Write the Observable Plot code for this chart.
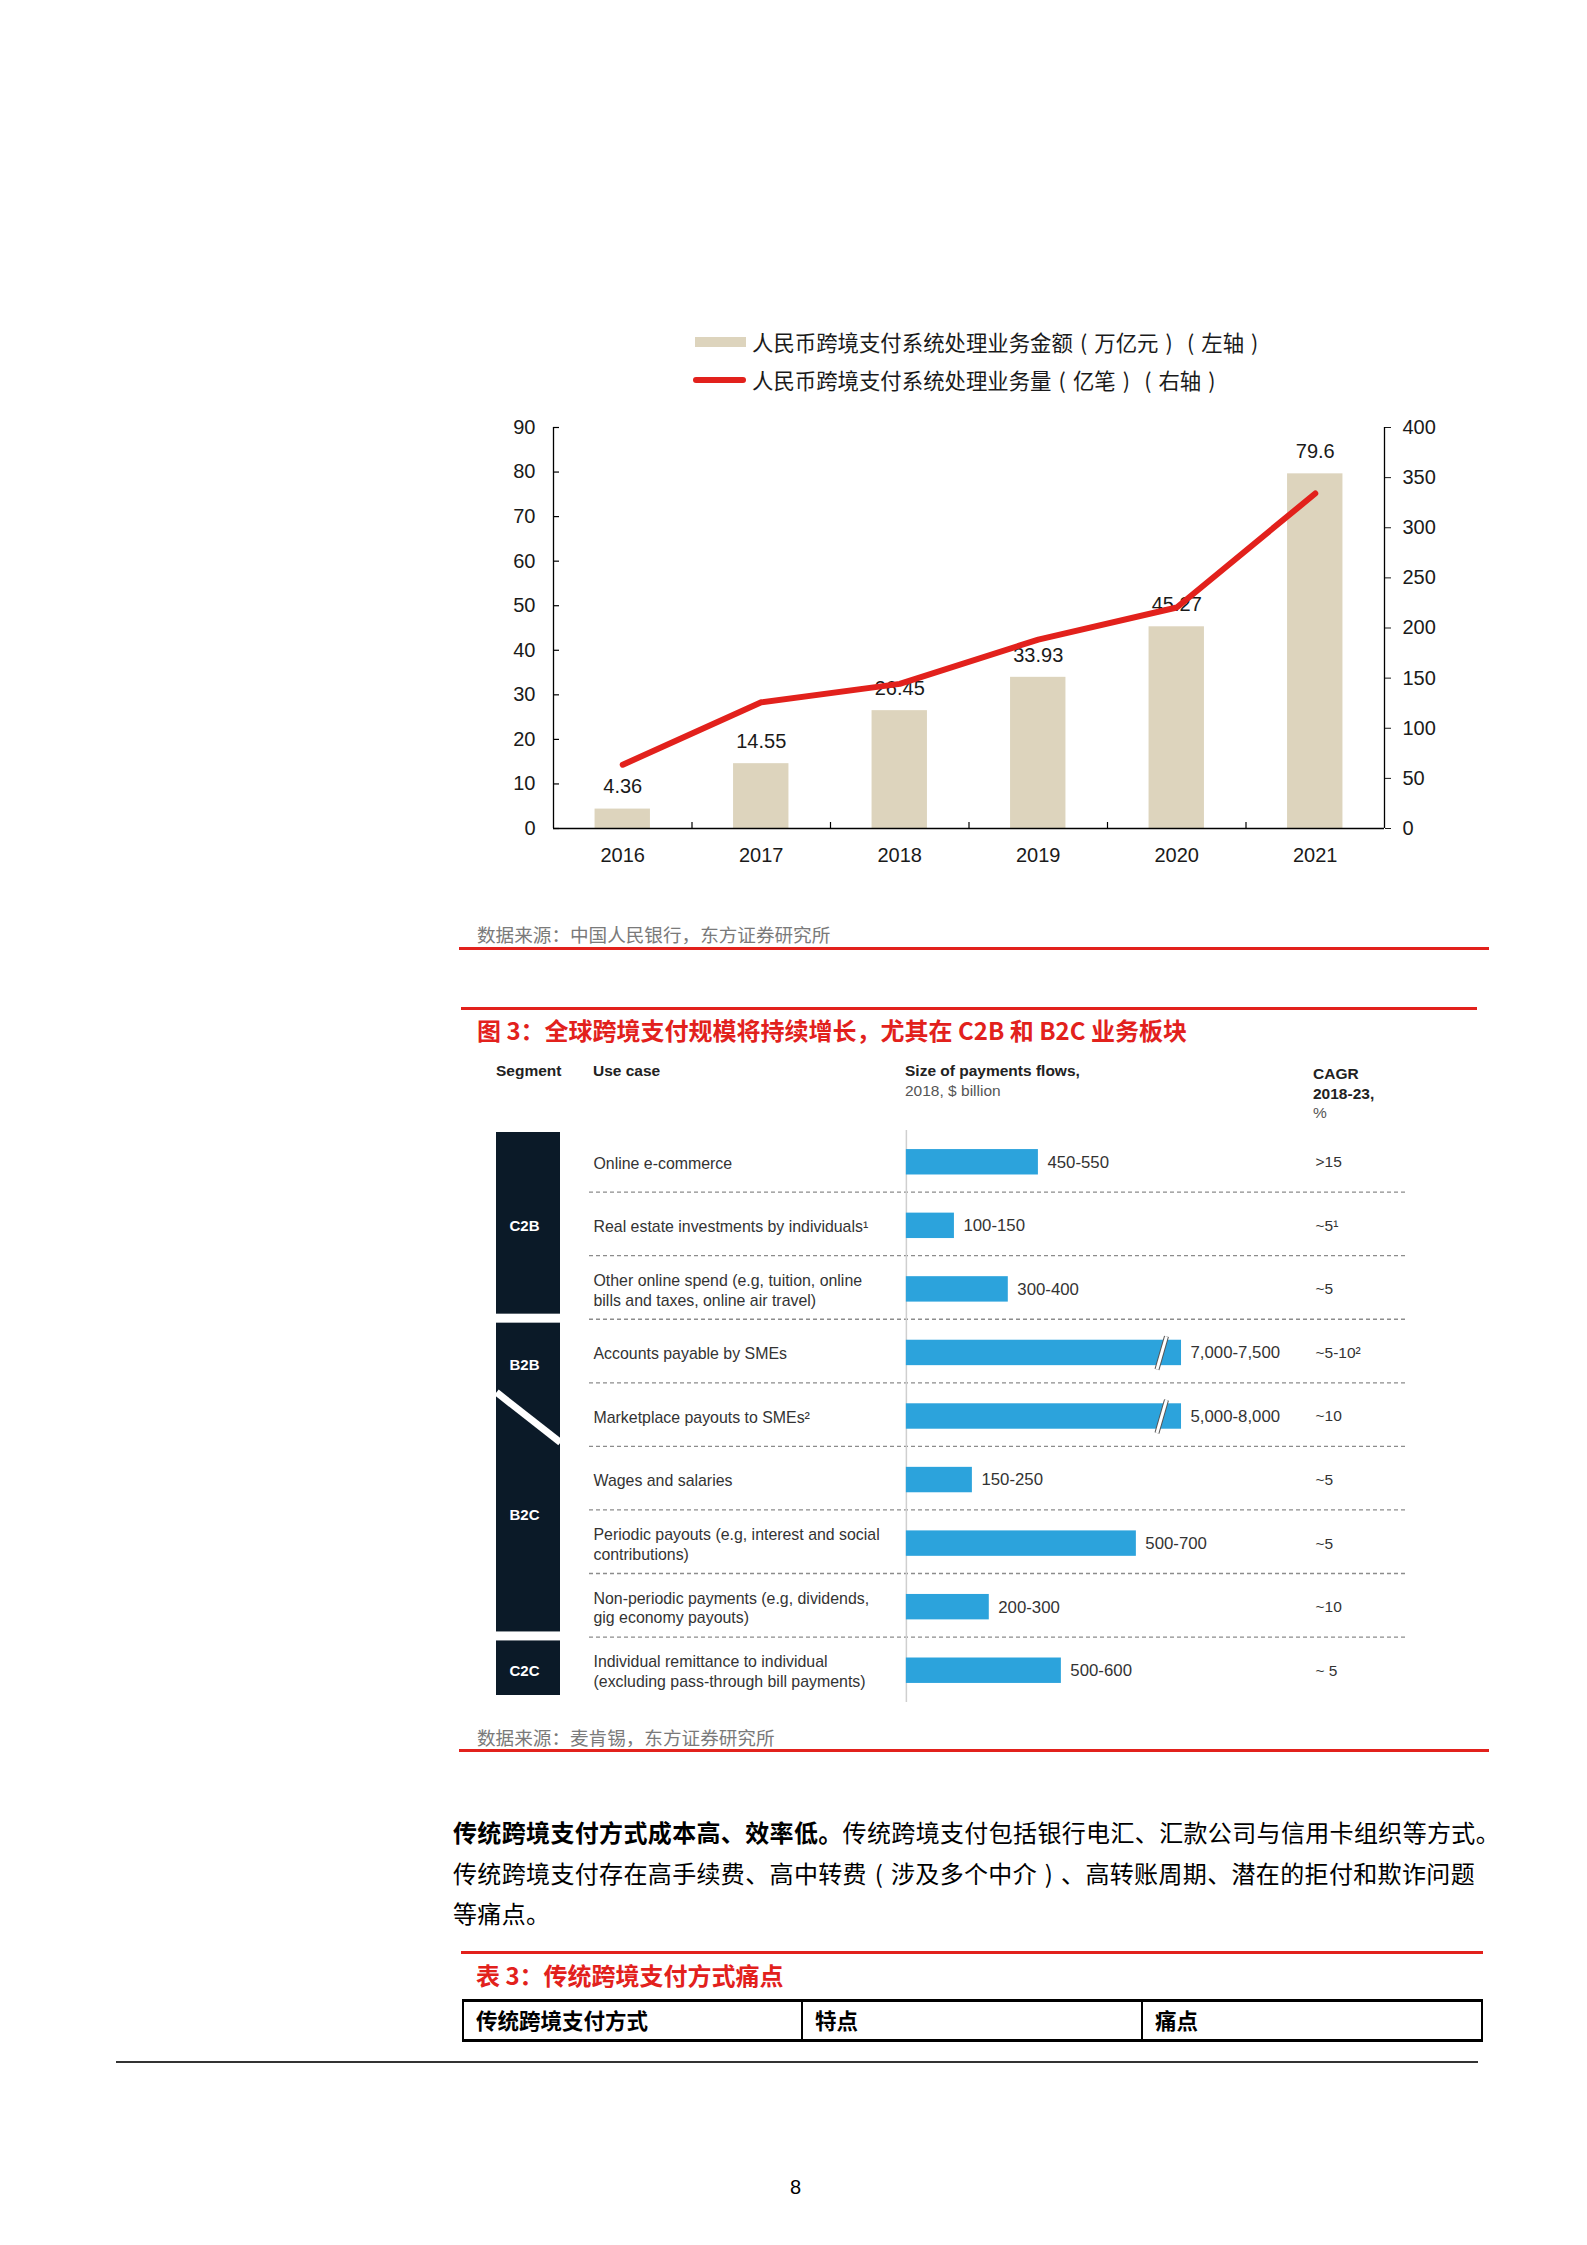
<!DOCTYPE html>
<html>
<head>
<meta charset="utf-8">
<script src="https://cdn.jsdelivr.net/npm/d3@7"></script>
<script src="https://cdn.jsdelivr.net/npm/@observablehq/plot@0.6"></script>
<style>
  html, body { margin: 0; padding: 0; background: #fff; }
  #page { position: relative; width: 1587px; height: 2245px; background: #fff; overflow: hidden; }
  .abs { position: absolute; white-space: pre; }
  .t { transform: translateY(-50%); line-height: 1.2; }
  .cjk { font-family: "Noto Sans CJK SC", "Noto Sans", sans-serif; }
  .lat { font-family: "Liberation Sans", Arial, "Noto Sans", sans-serif; }
  .pr { display: inline-block; width: 1em; text-align: center; }
</style>
</head>
<body>
<div id="page"></div>
<script>
// ---------------- Chart 1 data ----------------
const years = [2016, 2017, 2018, 2019, 2020, 2021];
const cipsAmount = [4.36, 14.55, 26.45, 33.93, 45.27, 79.6];        // 万亿元, left axis
const cipsVolume = [63.61, 125.9, 144.24, 188.43, 220.49, 334.16];  // 右轴
const leftTicks = [0, 10, 20, 30, 40, 50, 60, 70, 80, 90];
const rightTicks = [0, 50, 100, 150, 200, 250, 300, 350, 400];
const legendAmount = "人民币跨境支付系统处理业务金额（万亿元）（左轴）";
const legendVolume = "人民币跨境支付系统处理业务量（亿笔）（右轴）";

// ---------------- Chart 2 data ----------------
const useCases = [
  "Online e-commerce",
  "Real estate investments by individuals¹",
  "Other online spend (e.g, tuition, online\nbills and taxes, online air travel)",
  "Accounts payable by SMEs",
  "Marketplace payouts to SMEs²",
  "Wages and salaries",
  "Periodic payouts (e.g, interest and social\ncontributions)",
  "Non-periodic payments (e.g, dividends,\ngig economy payouts)",
  "Individual remittance to individual\n(excluding pass-through bill payments)"
];
const sizeLabels = ["450-550", "100-150", "300-400", "7,000-7,500", "5,000-8,000", "150-250", "500-700", "200-300", "500-600"];
// drawn bar length as shown in the picture (broken bars are truncated)
const drawnSize = [500, 182, 386, 1042, 1042, 250, 871, 314, 587];
const brokenBar = [false, false, false, true, true, false, false, false, false];
const cagr = [">15", "~5¹", "~5", "~5-10²", "~10", "~5", "~5", "~10", "~ 5"];
const segmentBlocks = [
  {name: "C2B", first: 0, last: 2},
  {name: "B2B/B2C", first: 3, last: 7},
  {name: "C2C", first: 8, last: 8}
];
const segmentLabels = [
  {label: "C2B", at: 1.0},
  {label: "B2B", at: 3.2},
  {label: "B2C", at: 5.55},
  {label: "C2C", at: 8.0}
];
const segmentSplit = [{from: 3.62, to: 4.41}];

// ---------------- helpers ----------------
const page = document.getElementById("page");
function esc(s) { return s.replace(/&/g, "&amp;").replace(/</g, "&lt;").replace(/>/g, "&gt;"); }
function parenHTML(s) {
  return esc(s).replace(/（/g, '<span class="pr">(</span>').replace(/）/g, '<span class="pr">)</span>');
}
function txt(s, x, cy, css, cls, html) {
  const d = document.createElement("div");
  d.className = "abs t " + (cls || "cjk");
  if (html) d.innerHTML = html; else d.textContent = s;
  d.style.left = x + "px";
  d.style.top = cy + "px";
  Object.assign(d.style, css || {});
  page.appendChild(d);
  return d;
}
function box(x, y, w, h, css) {
  const d = document.createElement("div");
  d.className = "abs";
  Object.assign(d.style, {left: x + "px", top: y + "px", width: w + "px", height: h + "px"}, css || {});
  page.appendChild(d);
  return d;
}
function place(node, x, y) {
  node.style.position = "absolute";
  node.style.left = x + "px";
  node.style.top = y + "px";
  page.appendChild(node);
}

const RED = "#e2211c";
const BEIGE = "#ddd4bd";
const latFont = "Liberation Sans, Arial, sans-serif";

// ---------------- Chart 1 ----------------
box(695, 337, 51, 10, {background: BEIGE});
txt(null, 752, 341.5, {fontSize: "21.4px", color: "#1a1a1a"}, "cjk", parenHTML(legendAmount));
box(693, 377, 53, 6, {background: RED, borderRadius: "3px"});
txt(null, 752, 380, {fontSize: "21.4px", color: "#1a1a1a"}, "cjk", parenHTML(legendVolume));

const rows1 = years.map((y, i) => ({year: y, amount: cipsAmount[i], volume: cipsVolume[i]}));
const W1 = 980, H1 = 480, ML1 = 93, MR1 = 56, MT1 = 27, MB1 = 52;
const frameW1 = W1 - ML1 - MR1, frameH1 = H1 - MT1 - MB1;
const xDom1 = [years[0] - 0.5, years[years.length - 1] + 0.5];
const style1 = {fontFamily: latFont, fontSize: "20px", color: "#1a1a1a", background: "transparent", overflow: "visible"};

const chartBars = Plot.plot({
  width: W1, height: H1, marginLeft: ML1, marginRight: MR1, marginTop: MT1, marginBottom: MB1,
  style: style1,
  x: {domain: xDom1, ticks: years, tickFormat: d => String(d), tickSize: 0, tickPadding: 19, label: null},
  y: {domain: [0, 90], ticks: leftTicks, tickSize: 0, tickPadding: 18, label: null},
  marks: [
    Plot.rect(rows1, {x1: d => d.year - 0.2, x2: d => d.year + 0.2, y1: 0, y2: "amount", fill: BEIGE}),
    Plot.text(rows1, {x: "year", y: "amount", text: d => String(d.amount), dy: -22, fontSize: 20, fill: "#1a1a1a"}),
    Plot.ruleY([0], {stroke: "#000", strokeWidth: 1.6}),
    Plot.ruleX([xDom1[0]], {stroke: "#000", strokeWidth: 1.3}),
    Plot.tickY(leftTicks, {y: d => d, insetRight: frameW1 - 6, stroke: "#000", strokeWidth: 1.2}),
    Plot.tickX(years.slice(0, -1), {x: d => d + 0.5, insetTop: frameH1 - 6, stroke: "#000", strokeWidth: 1.2})
  ]
});
place(chartBars, 460, 400);

const chartLine = Plot.plot({
  width: W1, height: H1, marginLeft: ML1, marginRight: MR1, marginTop: MT1, marginBottom: MB1,
  style: style1,
  x: {domain: xDom1, axis: null},
  y: {domain: [0, 400], ticks: rightTicks, axis: "right", tickSize: 6, tickPadding: 12, label: null},
  marks: [
    Plot.ruleX([xDom1[1]], {stroke: "#000", strokeWidth: 1.3}),
    Plot.line(rows1, {x: "year", y: "volume", stroke: RED, strokeWidth: 6, strokeLinecap: "round", strokeLinejoin: "round"})
  ]
});
place(chartLine, 460, 400);

txt("数据来源：中国人民银行，东方证券研究所", 477, 934, {fontSize: "18.6px", color: "#7a7a7a"});
box(459, 947, 1030, 2.5, {background: RED});

// ---------------- Chart 2 ----------------
box(461, 1007, 1016, 2.5, {background: RED});
txt("图 3：全球跨境支付规模将持续增长，尤其在 C2B 和 B2C 业务板块", 477, 1030, {fontSize: "24px", fontWeight: "bold", color: RED});

const hdr = {fontSize: "15.5px", fontWeight: "bold", color: "#222"};
const hdr2 = {fontSize: "15.5px", color: "#555"};
txt("Segment", 496, 1071, hdr, "lat");
txt("Use case", 593, 1071, hdr, "lat");
txt("Size of payments flows,", 905, 1071, hdr, "lat");
txt("2018, $ billion", 905, 1091, hdr2, "lat");
txt("CAGR", 1313, 1074, hdr, "lat");
txt("2018-23,", 1313, 1094, hdr, "lat");
txt("%", 1313, 1113, hdr2, "lat");

const rows2 = useCases.map((u, i) => ({i, useCase: u, label: sizeLabels[i], drawn: drawnSize[i], broken: brokenBar[i], cagr: cagr[i]}));
const W2 = 940, H2 = 586, ML2 = 109, MR2 = 14, MT2 = 10, MB2 = 4;
const yDom2 = [-0.5, useCases.length - 0.5];
const style2 = {fontFamily: latFont, fontSize: "16px", color: "#333", background: "transparent", overflow: "visible"};
const BLUE = "#2ca3dc";
const breakLen = 75, breakSlant = 18;

const chartTable = Plot.plot({
  width: W2, height: H2, marginLeft: ML2, marginRight: MR2, marginTop: MT2, marginBottom: MB2,
  style: style2,
  x: {domain: [-1200, 1894], axis: null},
  y: {domain: yDom2, reverse: true, axis: null},
  marks: [
    Plot.ruleY(rows2.slice(0, -1), {y: d => d.i + 0.47, stroke: "#8c8c8c", strokeWidth: 1.3, strokeDasharray: "4,3"}),
    Plot.ruleX([0], {stroke: "#cfcfcf", strokeWidth: 1.5}),
    Plot.rect(rows2, {x1: 0, x2: "drawn", y1: d => d.i - 0.2, y2: d => d.i + 0.2, fill: BLUE}),
    Plot.link(rows2.filter(d => d.broken), {
      x1: d => d.drawn - breakLen - breakSlant, y1: d => d.i + 0.26,
      x2: d => d.drawn - breakLen + breakSlant, y2: d => d.i - 0.26,
      stroke: "#555", strokeWidth: 5
    }),
    Plot.link(rows2.filter(d => d.broken), {
      x1: d => d.drawn - breakLen - breakSlant, y1: d => d.i + 0.26,
      x2: d => d.drawn - breakLen + breakSlant, y2: d => d.i - 0.26,
      stroke: "#fff", strokeWidth: 3
    }),
    Plot.text(rows2, {x: "drawn", y: "i", text: "label", dx: 9, textAnchor: "start", fontSize: 16.8, fill: "#333"}),
    Plot.text(rows2, {frameAnchor: "left", y: "i", text: "useCase", dx: 4, textAnchor: "start", lineHeight: 1.24, fontSize: 15.9, fill: "#333"}),
    Plot.text(rows2, {frameAnchor: "right", y: "i", text: "cagr", dx: -91, textAnchor: "start", fontSize: 15.5, fill: "#333"})
  ]
});
place(chartTable, 480, 1120);

const NAVY = "#0b1a28";
const chartSeg = Plot.plot({
  width: 64, height: H2, marginLeft: 0, marginRight: 0, marginTop: MT2, marginBottom: MB2,
  style: {fontFamily: latFont, fontSize: "15px", background: "transparent", overflow: "visible"},
  x: {domain: [0, 1], axis: null},
  y: {domain: yDom2, reverse: true, axis: null},
  marks: [
    Plot.rect(segmentBlocks, {x1: 0, x2: 1, y1: d => d.first - 0.5, y2: d => d.last + 0.5, insetTop: 2, insetBottom: 7, fill: NAVY}),
    Plot.link(segmentSplit, {x1: 0, x2: 1, y1: "from", y2: "to", stroke: "#fff", strokeWidth: 7}),
    Plot.text(segmentLabels, {frameAnchor: "left", y: "at", text: "label", dx: 13, textAnchor: "start", fill: "#fff", fontWeight: "bold", fontSize: 15})
  ]
});
place(chartSeg, 496, 1120);

txt("数据来源：麦肯锡，东方证券研究所", 477, 1737, {fontSize: "18.6px", color: "#7a7a7a"});
box(459, 1749, 1030, 2.5, {background: RED});

// ---------------- Body text ----------------
const pStyle = {fontSize: "24px", color: "#000", letterSpacing: "0.35px"};
txt(null, 453, 1832, pStyle, "cjk", '<b>传统跨境支付方式成本高、效率低。</b>传统跨境支付包括银行电汇、汇款公司与信用卡组织等方式。');
txt(null, 453, 1873, pStyle, "cjk", parenHTML("传统跨境支付存在高手续费、高中转费（涉及多个中介）、高转账周期、潜在的拒付和欺诈问题"));
txt("等痛点。", 453, 1913, pStyle);

box(461, 1951, 1022, 2.5, {background: RED});
txt("表 3：传统跨境支付方式痛点", 476, 1975, {fontSize: "24px", fontWeight: "bold", color: RED});

box(462, 1999, 1021, 43, {boxSizing: "border-box", borderTop: "3px solid #000", borderBottom: "3px solid #000", borderLeft: "2px solid #000", borderRight: "2px solid #000"});
box(801, 2000, 1.5, 42, {background: "#000"});
box(1141, 2000, 1.5, 42, {background: "#000"});
const th = {fontSize: "21.5px", fontWeight: "bold", color: "#000"};
txt("传统跨境支付方式", 476, 2020, th);
txt("特点", 815, 2020, th);
txt("痛点", 1155, 2020, th);

box(116, 2061, 1362, 1.5, {background: "#333"});
txt("8", 790, 2187, {fontSize: "20px", color: "#000"}, "lat");
</script>
</body>
</html>
